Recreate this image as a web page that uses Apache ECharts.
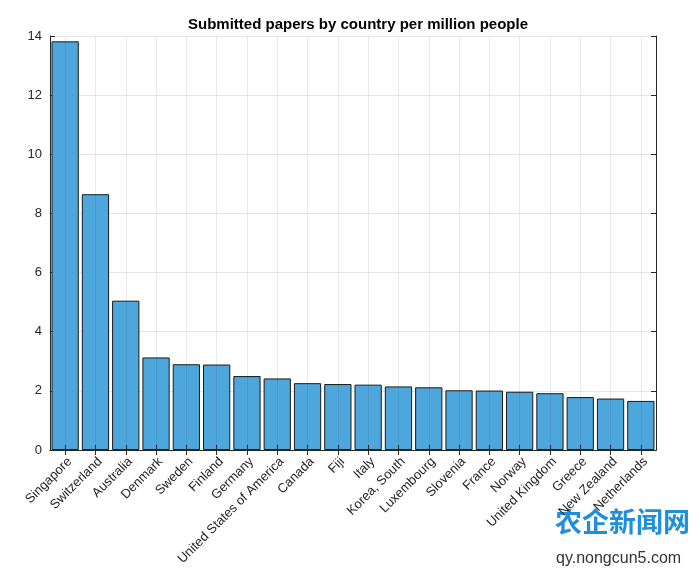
<!DOCTYPE html>
<html>
<head>
<meta charset="utf-8">
<script src="https://cdn.jsdelivr.net/npm/echarts@6/dist/echarts.min.js"></script>
<style>
html,body{margin:0;padding:0;background:#fff;}
#chart{width:698px;height:577px;}
</style>
</head>
<body>
<div id="chart"></div>
<script>
const countries = ['Singapore','Switzerland','Australia','Denmark','Sweden','Finland','Germany','United States of America','Canada','Fiji','Italy','Korea, South','Luxembourg','Slovenia','France','Norway','United Kingdom','Greece','New Zealand','Netherlands'];
const papersPerMillion = [13.82,8.65,5.05,3.13,2.90,2.89,2.50,2.42,2.26,2.23,2.21,2.15,2.12,2.02,2.01,1.97,1.92,1.79,1.74,1.66];
const yTicks = [0,2,4,6,8,10,12,14];
const titleText = 'Submitted papers by country per million people';

const FONT = '"Liberation Sans", Arial, Helvetica, sans-serif';
const AX = '#262626';
const chart = echarts.init(document.getElementById('chart'), null, {renderer:'canvas'});
const gridTop = 36, gridBottom = 127;
const plotH = 577 - gridTop - gridBottom;

chart.setOption({
  animation:false,
  backgroundColor:'#fff',
  textStyle:{fontFamily:FONT},
  title:{
    text:titleText, left:353, top:12, textAlign:'center',
    textStyle:{fontFamily:FONT, fontSize:15, fontWeight:'bold', color:'#000'}
  },
  grid:{left:50, right:42, top:gridTop, bottom:gridBottom, containLabel:false},
  xAxis:[
    {type:'category', data:countries, position:'bottom', z:4,
     axisLine:{show:true, lineStyle:{color:AX, width:1}},
     axisTick:{show:true, inside:true, alignWithLabel:true, interval:0, length:5, lineStyle:{color:AX}},
     axisLabel:{rotate:45, fontSize:13, color:AX, margin:5, interval:0, verticalAlign:'top', fontFamily:FONT},
     splitLine:{show:false}},
    {type:'category', data:countries, position:'top', z:4,
     axisLine:{show:true, lineStyle:{color:AX, width:1}},
     axisTick:{show:true, inside:true, alignWithLabel:true, interval:0, length:5, lineStyle:{color:AX}},
     axisLabel:{show:false}, splitLine:{show:false}},
    {type:'category', data:countries, position:'bottom', z:3,
     axisLine:{show:false},
     axisTick:{show:true, inside:true, alignWithLabel:true, interval:0, length:plotH, lineStyle:{color:'rgba(0,0,0,0.08)'}},
     axisLabel:{show:false}, splitLine:{show:false}}
  ],
  yAxis:[
    {type:'value', min:yTicks[0], max:yTicks[yTicks.length-1], interval:2, position:'left',
     axisLine:{show:true, lineStyle:{color:AX, width:1}},
     axisTick:{show:true, inside:true, length:5, lineStyle:{color:AX}},
     axisLabel:{fontSize:13, color:AX, margin:8, fontFamily:FONT},
     splitLine:{show:true, lineStyle:{color:'#e6e6e6', width:1}}},
    {type:'value', min:yTicks[0], max:yTicks[yTicks.length-1], interval:2, position:'right',
     axisLine:{show:true, lineStyle:{color:AX, width:1}},
     axisTick:{show:true, inside:true, length:5, lineStyle:{color:AX}},
     axisLabel:{show:false}, splitLine:{show:false}}
  ],
  series:[{
    type:'bar', data:papersPerMillion, xAxisIndex:0, yAxisIndex:0,
    barCategoryGap:'10%',
    itemStyle:{color:'#4DA6DC', borderColor:'#1a1a1a', borderWidth:1}
  }],
  graphic:[
    {type:'text', left:555, top:508, style:{text:'农企新闻网', fontSize:27, fontWeight:'bold', fill:'#1f8fdb', fontFamily:'"Noto Sans CJK SC", sans-serif'}},
    {type:'text', left:556, top:551, style:{text:'qy.nongcun5.com', fontSize:16, fill:'#333', fontFamily:FONT}}
  ]
});
</script>
</body>
</html>
